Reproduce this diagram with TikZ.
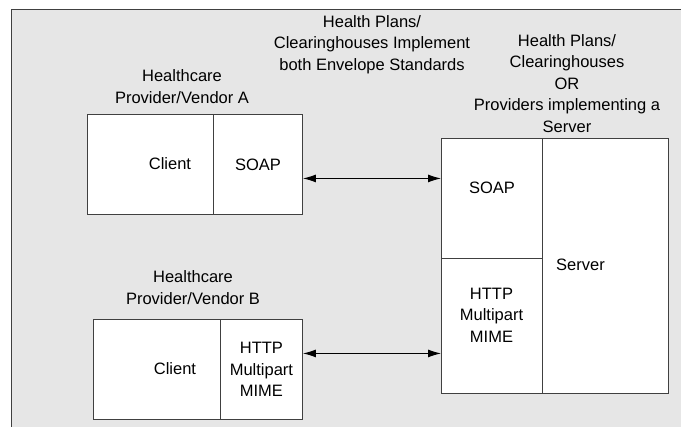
\documentclass[tikz,border=0pt]{standalone}
\usepackage{fontspec}
\setmainfont{Liberation Sans}
\usetikzlibrary{arrows.meta}
\definecolor{bggray}{RGB}{230,230,230}
\definecolor{linegray}{RGB}{64,64,64}
\tikzset{
  part/.style={draw=linegray, line width=0.9pt, fill=white, inner sep=0pt, anchor=north west},
  lbl/.style={inner sep=0pt, align=center, font=\fontsize{16.5}{21.5}\selectfont},
  arr/.style={line width=1pt, {Latex[length=13pt,width=8pt]}-{Latex[length=13pt,width=8pt]}}
}
\begin{document}
\begin{tikzpicture}[x=1pt,y=-1pt]
\useasboundingbox (0,0) rectangle (681,427);
\fill[bggray] (11,10) rectangle (681,427);
\draw[linegray, line width=1pt] (11,427) -- (11,10) -- (681,10);

% Provider A
\node[part, minimum width=126pt, minimum height=100pt] (aClient) at (87,114) {};
\node[part, minimum width=89pt, minimum height=100pt] (aSoap) at (213,114) {};
\node[lbl] at (170,164) {Client};
\node[lbl] at (aSoap.center) {SOAP};
\node[lbl] (aLabel) at (182,86.5) {Healthcare\\Provider/Vendor A};

% Provider B
\node[part, minimum width=127pt, minimum height=100pt] (bClient) at (93,319) {};
\node[part, minimum width=82pt, minimum height=100pt] (bHttp) at (220,319) {};
\node[lbl] at (175,369) {Client};
\node[lbl] at (bHttp.center) {HTTP\\Multipart\\MIME};
\node[lbl] (bLabel) at (193,287.5) {Healthcare\\Provider/Vendor B};

% Server
\node[part, minimum width=126pt, minimum height=255pt] (sMain) at (542,138) {};
\node[part, minimum width=101pt, minimum height=120pt] (sSoap) at (441,138) {};
\node[part, minimum width=101pt, minimum height=135pt] (sHttp) at (441,258) {};
\node[lbl] at (492,188) {SOAP};
\node[lbl] at (491.5,315) {HTTP\\Multipart\\MIME};
\node[lbl] at (580.5,265) {Server};
\node[lbl] (sLabel) at (567,83.5) {Health Plans/\\Clearinghouses\\OR\\Providers implementing a\\Server};

% Middle label
\node[lbl] (mLabel) at (372,44.5) {Health Plans/\\Clearinghouses Implement\\both Envelope Standards};

% Connectors
\draw[arr] ([yshift=-14pt]aSoap.east) -- ([yshift=-14pt]aSoap.east -| sSoap.west);
\draw[arr] ([yshift=16pt]bHttp.east) -- ([yshift=16pt]bHttp.east -| sHttp.west);
\end{tikzpicture}
\end{document}
